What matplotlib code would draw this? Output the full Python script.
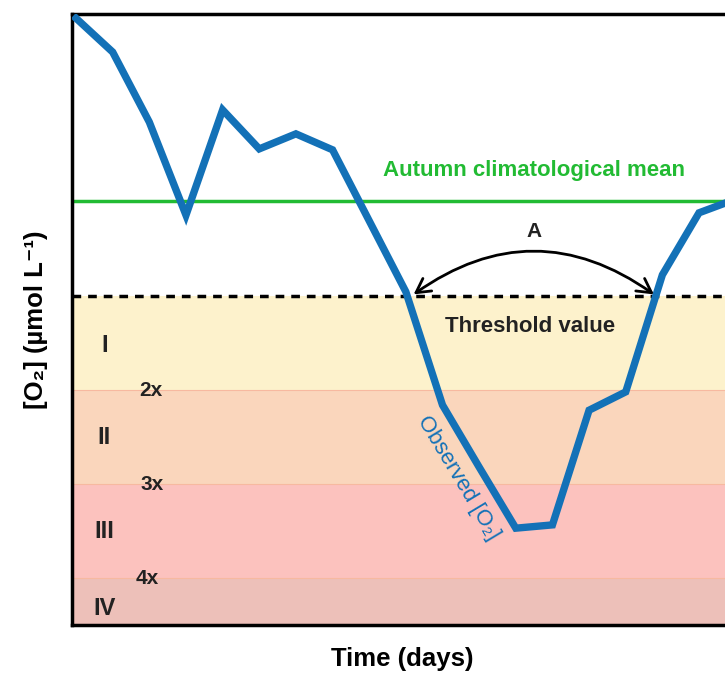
import matplotlib.pyplot as plt
from matplotlib.patches import FancyArrowPatch

plt.rcParams['font.family'] = ['Liberation Sans', 'DejaVu Sans']

# Observed oxygen, one value per day (arbitrary units)
days = list(range(19))
observed_o2 = [129.1, 121.9, 107.0, 87.2, 109.6, 101.3, 104.5, 101.1, 86.0, 70.9,
               46.8, 33.6, 20.6, 21.3, 45.7, 49.6, 74.5, 87.7, 90.6]

climatological_mean = 90.2
threshold = 70
# hypoxia categories between these edges
band_edges = [70, 50, 30, 10, 0]
band_labels = ['I', 'II', 'III', 'IV']
band_colors = ['#fdf2cc', '#fad6bc', '#fcc2be', '#edc0b9']
multiplier_labels = ['2x', '3x', '4x']

blue = '#1371b7'
green = '#22bb33'

fig = plt.figure(figsize=(7.25, 6.76), dpi=100)
ax = fig.add_axes([72 / 725, 1 - 625 / 676, 660 / 725, 611 / 676])
ax.set_xlim(-0.11, 17.9)
ax.set_ylim(0, 130)

# coloured bands below the threshold
for i in range(4):
    ax.axhspan(band_edges[i + 1], band_edges[i], color=band_colors[i], lw=0, zorder=0)
for e in band_edges[1:4]:
    ax.axhline(e, color='#f7b9a0', lw=0.8, zorder=0.5)

# band labels
band_label_y = [59.4, 40.0, 20.0, 3.6]
for lab, y in zip(band_labels, band_label_y):
    ax.text(0.77, y, lab, ha='center', va='center', fontsize=17, fontweight='bold', color='#222222')
mult_x = [2.05, 2.08, 1.93]
for lab, x, y in zip(multiplier_labels, mult_x, band_edges[1:4]):
    ax.text(x, y, lab, ha='center', va='center', fontsize=15, fontweight='bold', color='#222222')

ax.axhline(climatological_mean, color=green, lw=2.5, zorder=2)
ax.axhline(threshold, color='black', lw=2.5, ls=(0, (2.5, 2)), zorder=2)

ax.plot(days, observed_o2, color=blue, lw=5.3, solid_joinstyle='miter', zorder=3)

ax.text(12.5, 96.6, 'Autumn climatological mean', color=green, fontsize=16,
        fontweight='bold', ha='center', va='center')
ax.text(12.4, 63.6, 'Threshold value', color='#222222', fontsize=16,
        fontweight='bold', ha='center', va='center')
ax.text(12.5, 83.7, 'A', color='#222222', fontsize=15, fontweight='bold',
        ha='center', va='center')
ax.text(10.44, 31.3, 'Observed [O₂]', color=blue, fontsize=16, rotation=-59,
        ha='center', va='center', rotation_mode='anchor')

arrow = FancyArrowPatch((9.15, threshold), (15.83, threshold),
                        connectionstyle='arc3,rad=-0.36',
                        arrowstyle='<->,head_length=10,head_width=5.5',
                        color='black', lw=2, zorder=4)
ax.add_patch(arrow)

ax.set_xticks([])
ax.set_yticks([])
for s in ['left', 'top', 'bottom']:
    ax.spines[s].set_linewidth(2.5)
ax.spines['right'].set_visible(False)

ax.set_xlabel('Time (days)', fontsize=18.5, fontweight='bold', labelpad=16)
ax.set_ylabel('[O₂] (µmol L⁻¹)', fontsize=18.5, fontweight='bold', labelpad=17)

fig.savefig('out.png', dpi=100)
